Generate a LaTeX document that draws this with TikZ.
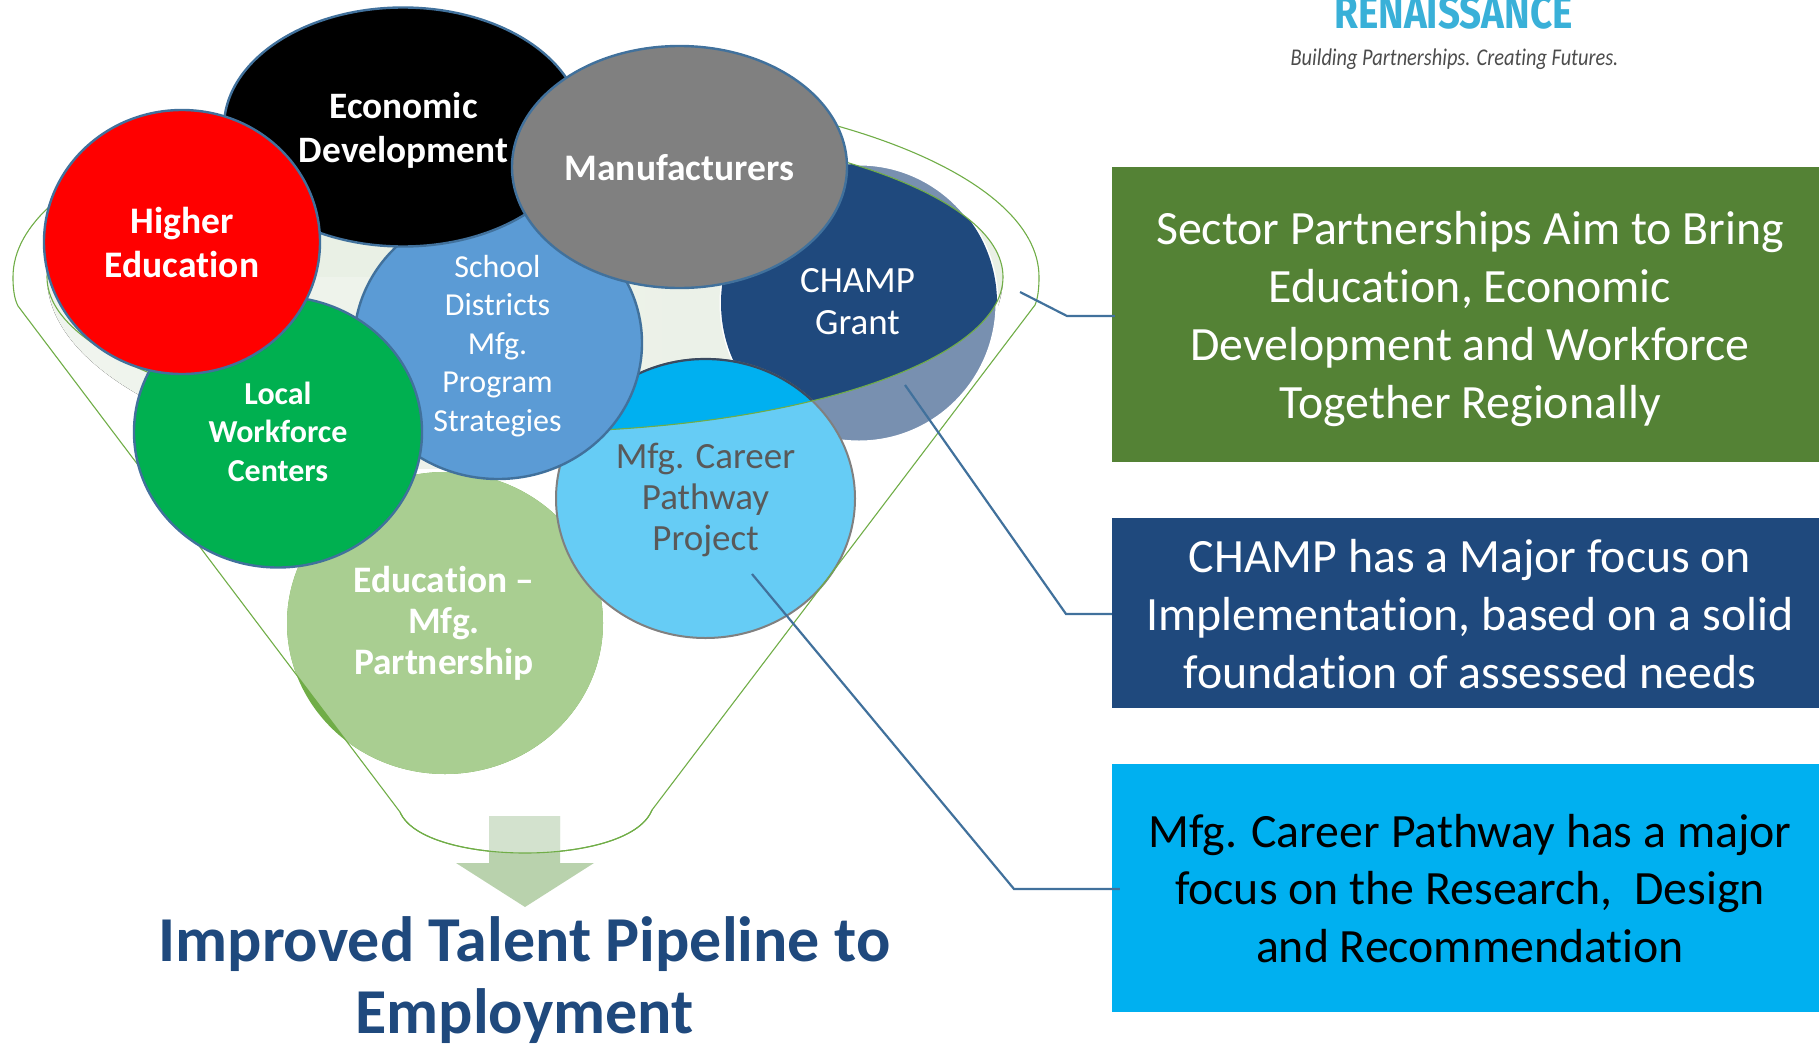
\documentclass[tikz,border=0pt]{standalone}
\usepackage{fontspec}
\setmainfont[Ligatures=CommonOff]{Carlito}
\newfontfamily\logofont{Fira Sans}
\usetikzlibrary{shapes.geometric}
\definecolor{rimblue}{HTML}{41719C}
\definecolor{navy}{HTML}{1F497D}
\definecolor{funnelgreen}{HTML}{70AD47}
\definecolor{sky}{HTML}{00B0F0}
\definecolor{skylight}{HTML}{66CCF5}
\definecolor{paleA}{HTML}{F0F4EE}
\definecolor{paleB}{HTML}{E9F0E5}
\definecolor{navylight}{HTML}{7890B0}
\definecolor{edulight}{HTML}{A9CE91}
\definecolor{schoolblue}{HTML}{5B9BD5}
\definecolor{wfgreen}{HTML}{00B050}
\definecolor{boxgreen}{HTML}{548235}
\definecolor{logoblue}{HTML}{39B0D8}
\definecolor{greytext}{HTML}{595959}
\definecolor{rimdark}{HTML}{3A4A60}
\definecolor{arrowhead}{HTML}{B9D2AD}
\definecolor{arrowtop}{HTML}{D3E2CE}
\def\funnelpath{(18,306) -- (400,812) .. controls (412,840) and (470,853) .. (525,853) .. controls (580,853) and (640,840) .. (652,810) -- (1035,305) .. controls (1038,298) and (1039,288) .. (1039,277) arc[start angle=0,end angle=180,x radius=513pt,y radius=190pt] .. controls (13,288) and (14,298) .. (18,306) -- cycle}
\def\innerpath{(525,277) ellipse[x radius=478pt,y radius=155pt]}
\tikzset{
  blob/.style={ellipse,inner sep=0pt,draw=rimblue,line width=2.4pt},
  plain/.style={inner sep=0pt,align=center},
  blobtext/.style={plain,text=white},
  sidebox/.style={rectangle,inner sep=0pt},
  sidetext/.style={plain,text=white,font=\fontsize{47.8}{57.7}\selectfont},
  leader/.style={draw=rimblue,line width=2.2pt},
  funnelline/.style={draw=funnelgreen,line width=1.1pt},
}
\begin{document}
\begin{tikzpicture}[x=1pt,y=-1pt]
\useasboundingbox (0,0) rectangle (1819,1044);
\clip (0,0) rectangle (1819,1044);
% pale funnel mouth
\fill[paleB] \innerpath;
\begin{scope}
  \clip (0,277) rectangle (1100,468);
  \fill[left color=paleA,right color=paleB] (525,277) ellipse[x radius=478pt,y radius=200pt];
\end{scope}
% education
\fill[funnelgreen] (445,623) ellipse[x radius=158pt,y radius=151pt];
\begin{scope}
  \clip \funnelpath;
  \fill[edulight] (445,623) ellipse[x radius=158pt,y radius=151pt];
\end{scope}
\node[blobtext,font=\bfseries\fontsize{37.4}{41}\selectfont] (edu) at (444,623.5) {Education --\\Mfg.\\Partnership};
% champ
\draw[white,line width=3pt,fill=navylight] (859,303) ellipse[x radius=138pt,y radius=139pt];
\begin{scope}
  \clip \innerpath;
  \fill[navy] (859,303) ellipse[x radius=138pt,y radius=139pt];
\end{scope}
\node[blobtext,font=\fontsize{37}{42}\selectfont] (champ) at (857.5,302) {CHAMP\\Grant};
% pathway
\fill[sky] (705.5,498.5) ellipse[x radius=149.5pt,y radius=139.5pt];
\begin{scope}
  \clip \funnelpath;
  \fill[skylight] (705.5,498.5) ellipse[x radius=149.5pt,y radius=139.5pt];
\end{scope}
\draw[gray,line width=2pt] (705.5,498.5) ellipse[x radius=149.5pt,y radius=139.5pt];
\begin{scope}
  \clip \innerpath;
  \fill[sky] (705.5,498.5) ellipse[x radius=149.5pt,y radius=139.5pt];
  \draw[rimdark,line width=2.2pt] (705.5,498.5) ellipse[x radius=149.5pt,y radius=139.5pt];
\end{scope}
\node[plain,text=greytext,font=\fontsize{37}{41}\selectfont] (path) at (705.5,500) {Mfg. Career\\Pathway\\Project};
% funnel lines
\draw[funnelline] \funnelpath;
\draw[funnelline] \innerpath;
% top blobs
\node[blob,fill=schoolblue,minimum width=288pt,minimum height=272pt] (school) at (498,343) {};
\node[blobtext,font=\fontsize{32}{38.5}\selectfont] (schooltext) at (497.5,346) {School\\Districts\\Mfg.\\Program\\Strategies};
\node[blob,fill=wfgreen,minimum width=288pt,minimum height=271pt] (local) at (278,432) {};
\node[blobtext,font=\bfseries\fontsize{32}{38.5}\selectfont] (localtext) at (278,431.5) {Local\\Workforce\\Centers};
\node[blob,fill=black,minimum width=358pt,minimum height=239pt] (econ) at (403,127) {};
\node[blobtext,font=\bfseries\fontsize{37.3}{44}\selectfont] (econtext) at (403.5,130) {Economic\\Development};
\node[blob,fill=red,minimum width=276pt,minimum height=264pt] (higher) at (182,242) {};
\node[blobtext,font=\bfseries\fontsize{37.5}{44}\selectfont] (highertext) at (182,242) {Higher\\Education};
\node[blob,fill=gray,minimum width=335pt,minimum height=242pt] (manu) at (679.5,167) {};
\node[blobtext,font=\bfseries\fontsize{37.5}{44}\selectfont] (manutext) at (679.5,168) {Manufacturers};
% arrow
\fill[arrowhead] (489,816) -- (560,816) -- (560,863) -- (594,863) -- (525,907) -- (456,863) -- (489,863) -- cycle;
\begin{scope}
  \clip \funnelpath;
  \fill[arrowtop] (489,816) rectangle (560,860);
\end{scope}
\draw[funnelline] (400,812) .. controls (412,840) and (470,853) .. (525,853) .. controls (580,853) and (640,840) .. (652,810);
\node[plain,text=navy,font=\bfseries\fontsize{64}{72}\selectfont] (result) at (524.5,980) {Improved Talent Pipeline to\\Employment};
% boxes
\node[sidebox,fill=boxgreen,minimum width=716pt,minimum height=295pt] (boxa) at (1470,314.5) {};
\node[sidetext] (boxatext) at (1470,319) {Sector Partnerships Aim to Bring\\Education, Economic\\Development and Workforce\\Together Regionally};
\node[sidebox,fill=navy,minimum width=716pt,minimum height=190pt] (boxb) at (1470,613) {};
\node[sidetext] (boxbtext) at (1470,614) {CHAMP has a Major focus on\\Implementation, based on a solid\\foundation of assessed needs};
\node[sidebox,fill=sky,minimum width=716pt,minimum height=248pt] (boxc) at (1470,888) {};
\node[sidetext,text=black] (boxctext) at (1470,888.5) {Mfg. Career Pathway has a major\\focus on the Research,\ \ Design\\and Recommendation};
% leaders
\coordinate (a1) at (1067,316);
\coordinate (a2) at (1020,292);
\coordinate (b1) at (1066,614);
\coordinate (b2) at (905,385);
\coordinate (c1) at (1014,889);
\coordinate (c2) at (752,574);
\draw[leader] ([shift={(3pt,-1.5pt)}]boxa.west) -- (a1) -- (a2);
\draw[leader] (boxb.west |- b1) -- (b1) -- (b2);
\draw[leader] ([shift={(8pt,-1pt)}]boxc.west) -- (c1) -- (c2);
% logo
\node[plain,anchor=base,text=logoblue,xscale=0.84,font=\logofont\bfseries\fontsize{46}{46}\selectfont] (logo) at (1453.5,28) {RENAISSANCE};
\node[plain,anchor=base,text=black!70,xscale=0.85,font=\itshape\fontsize{24}{24}\selectfont] (tag) at (1454.5,65) {Building Partnerships. Creating Futures.};
\end{tikzpicture}
\end{document}
